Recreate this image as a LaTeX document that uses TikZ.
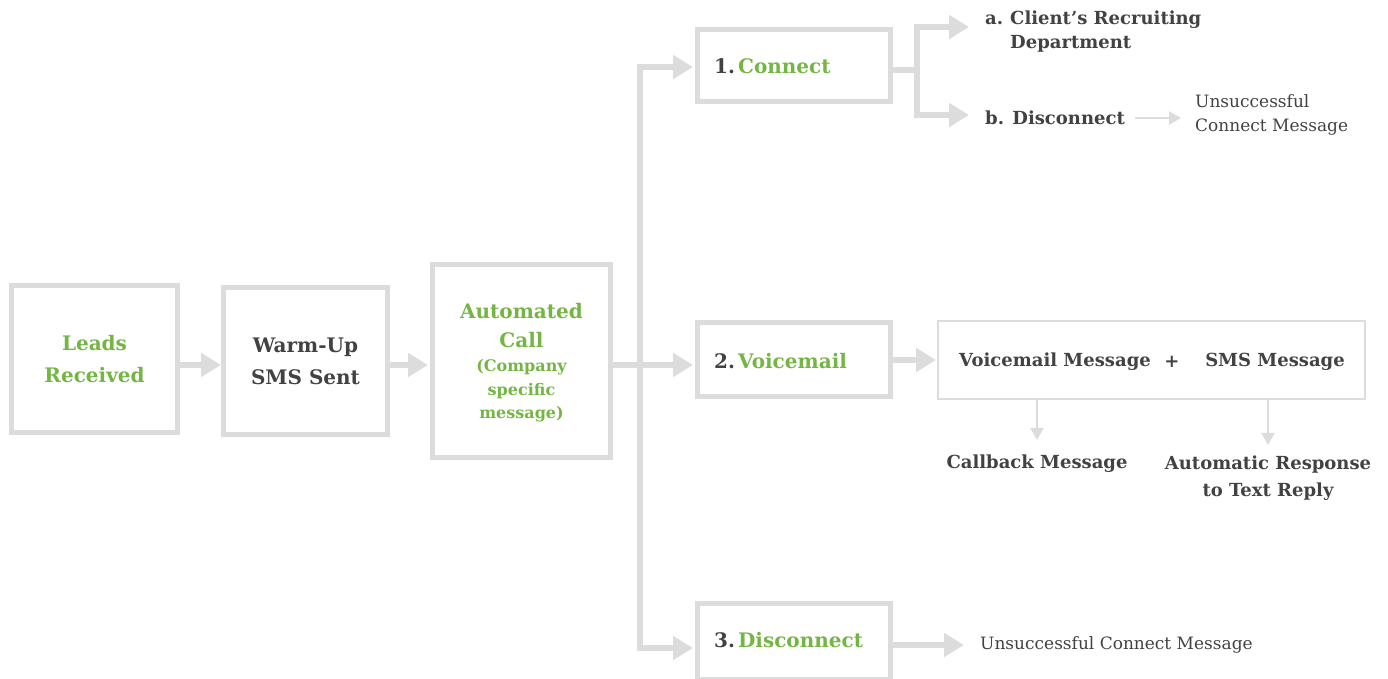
\documentclass[tikz,border=0pt]{standalone}
\usepackage{fontspec}
\setmainfont{DejaVu Serif}
\usetikzlibrary{arrows.meta}
\definecolor{lgray}{HTML}{DCDCDC}
\definecolor{fgreen}{HTML}{74B544}
\definecolor{dtext}{HTML}{424242}
\tikzset{
  box/.style={draw=lgray, line width=5pt, inner sep=0pt, align=center, text=dtext, font=\bfseries},
  thinbox/.style={draw=lgray, line width=2pt, inner sep=0pt},
  flow/.style={draw=lgray, line width=6pt, -{Triangle[length=20pt,width=23pt]}},
  flowline/.style={draw=lgray, line width=6pt},
  thin/.style={draw=lgray, line width=2pt, -{Triangle[length=12pt,width=13pt]}},
  big/.style={font=\fontsize{20}{30}\selectfont\bfseries},
  mid/.style={font=\fontsize{18}{26}\selectfont\bfseries, text=dtext, inner sep=0pt},
  reg/.style={font=\fontsize{17}{24}\selectfont, text=dtext, inner sep=0pt, align=left},
}
\begin{document}
\begin{tikzpicture}[x=1pt,y=-1pt]
\useasboundingbox (0,0) rectangle (1388,679);
\begin{scope}
\clip (0,0) rectangle (1388,679);
% main boxes
\node[box, minimum width=166pt, minimum height=147pt, text=fgreen, font=\fontsize{20}{32}\selectfont\bfseries] (leads) at (94.5,359) {Leads\\Received};
\node[box, minimum width=164pt, minimum height=147pt, font=\fontsize{20}{32}\selectfont\bfseries] (warm) at (305.5,361) {Warm-Up\\SMS Sent};
\node[box, minimum width=178pt, minimum height=193pt] (auto) at (521.5,361) {};
\node[text=fgreen, font=\fontsize{20}{29}\selectfont\bfseries, align=center, inner sep=0pt] (autot) at (521.5,325.5) {Automated\\Call};
\node[text=fgreen, font=\fontsize{16}{23.5}\selectfont\bfseries, align=center, inner sep=0pt] (autos) at (521.5,391) {(Company\\specific\\message)};
\node[box, minimum width=193pt, minimum height=72pt] (conn) at (794,65.5) {};
\node[box, minimum width=193pt, minimum height=74pt] (vm) at (794,359.5) {};
\node[box, minimum width=193pt, minimum height=76pt] (disc) at (794,641.5) {};
\node[big, text=dtext, anchor=west, inner sep=0pt] (connt) at (714,66) {1.\hspace{3pt}\textcolor{fgreen}{Connect}};
\node[big, text=dtext, anchor=west, inner sep=0pt] (vmt) at (714,361) {2.\hspace{3pt}\textcolor{fgreen}{Voicemail}};
\node[big, text=dtext, anchor=west, inner sep=0pt] (disct) at (714,640) {3.\hspace{3pt}\textcolor{fgreen}{Disconnect}};
% big box
\node[thinbox, minimum width=427pt, minimum height=78pt] (bigbox) at (1151.5,360) {};
\node[mid] (vmm) at (1055,362) {Voicemail Message};
\node[mid] (plus) at (1172,362) {+};
\node[mid] (sms) at (1275,362) {SMS Message};
\node[mid] (cb) at (1037,464) {Callback Message};
\node[mid, align=center, font=\fontsize{18}{27}\selectfont\bfseries] (auto2) at (1268,478.5) {Automatic Response\\to Text Reply};
% connect branch
\node[mid, anchor=west, align=left, font=\fontsize{18}{24}\selectfont\bfseries] (ca) at (985,32) {\makebox[25pt][l]{a.}Client’s Recruiting\\\hspace*{25pt}Department};
\node[mid, anchor=west] (cbn) at (985,118) {b. Disconnect};
\node[reg, anchor=west] (uns1) at (1195,115) {Unsuccessful\\Connect Message};
\node[reg, anchor=west] (uns2) at (980,645) {Unsuccessful Connect Message};
% coordinates
\coordinate (j0) at (640,365);
\coordinate (jt) at (640,67);
\coordinate (jb) at (640,648);
\coordinate (k0) at (917,70);
\coordinate (kt) at (917,27);
\coordinate (kb) at (917,115);
% connectors
\draw[flow] (leads.east |- 0,365) -- (warm.west |- 0,365);
\draw[flow] (warm.east |- 0,365) -- ([xshift=-2pt]auto.west |- 0,365);
\draw[flowline] (auto.east |- 0,365) -- (j0);
\draw[flowline] ([yshift=3pt]jt) -- ([yshift=-3pt]jb);
\draw[flow] ([xshift=-3pt]jt) -- ([xshift=-2pt]conn.west |- jt);
\draw[flow] (j0) -- ([xshift=-2pt]vm.west |- j0);
\draw[flow] ([xshift=-3pt]jb) -- ([xshift=-2pt]disc.west |- jb);
\draw[flowline] (conn.east |- k0) -- (k0);
\draw[flowline] ([yshift=3pt]kt) -- ([yshift=-3pt]kb);
\draw[flow] ([xshift=-3pt]kt) -- ([xshift=-16pt]ca.west |- kt);
\draw[flow] ([xshift=-3pt]kb) -- ([xshift=-16pt]cbn.west |- kb);
\draw[thin] ([xshift=10pt]cbn.east) -- ([xshift=-14pt]uns1.west |- cbn.east);
\draw[flow] (vm.east |- 0,360) -- ([xshift=-1pt]bigbox.west |- 0,360);
\draw[flow] (disc.east |- 0,645) -- ([xshift=-16pt]uns2.west);
\draw[thin] (bigbox.south -| cb) -- ([yshift=15pt]cb.north);
\draw[thin] (bigbox.south -| auto2) -- ([yshift=11pt]auto2.north);
\end{scope}
\end{tikzpicture}
\end{document}
